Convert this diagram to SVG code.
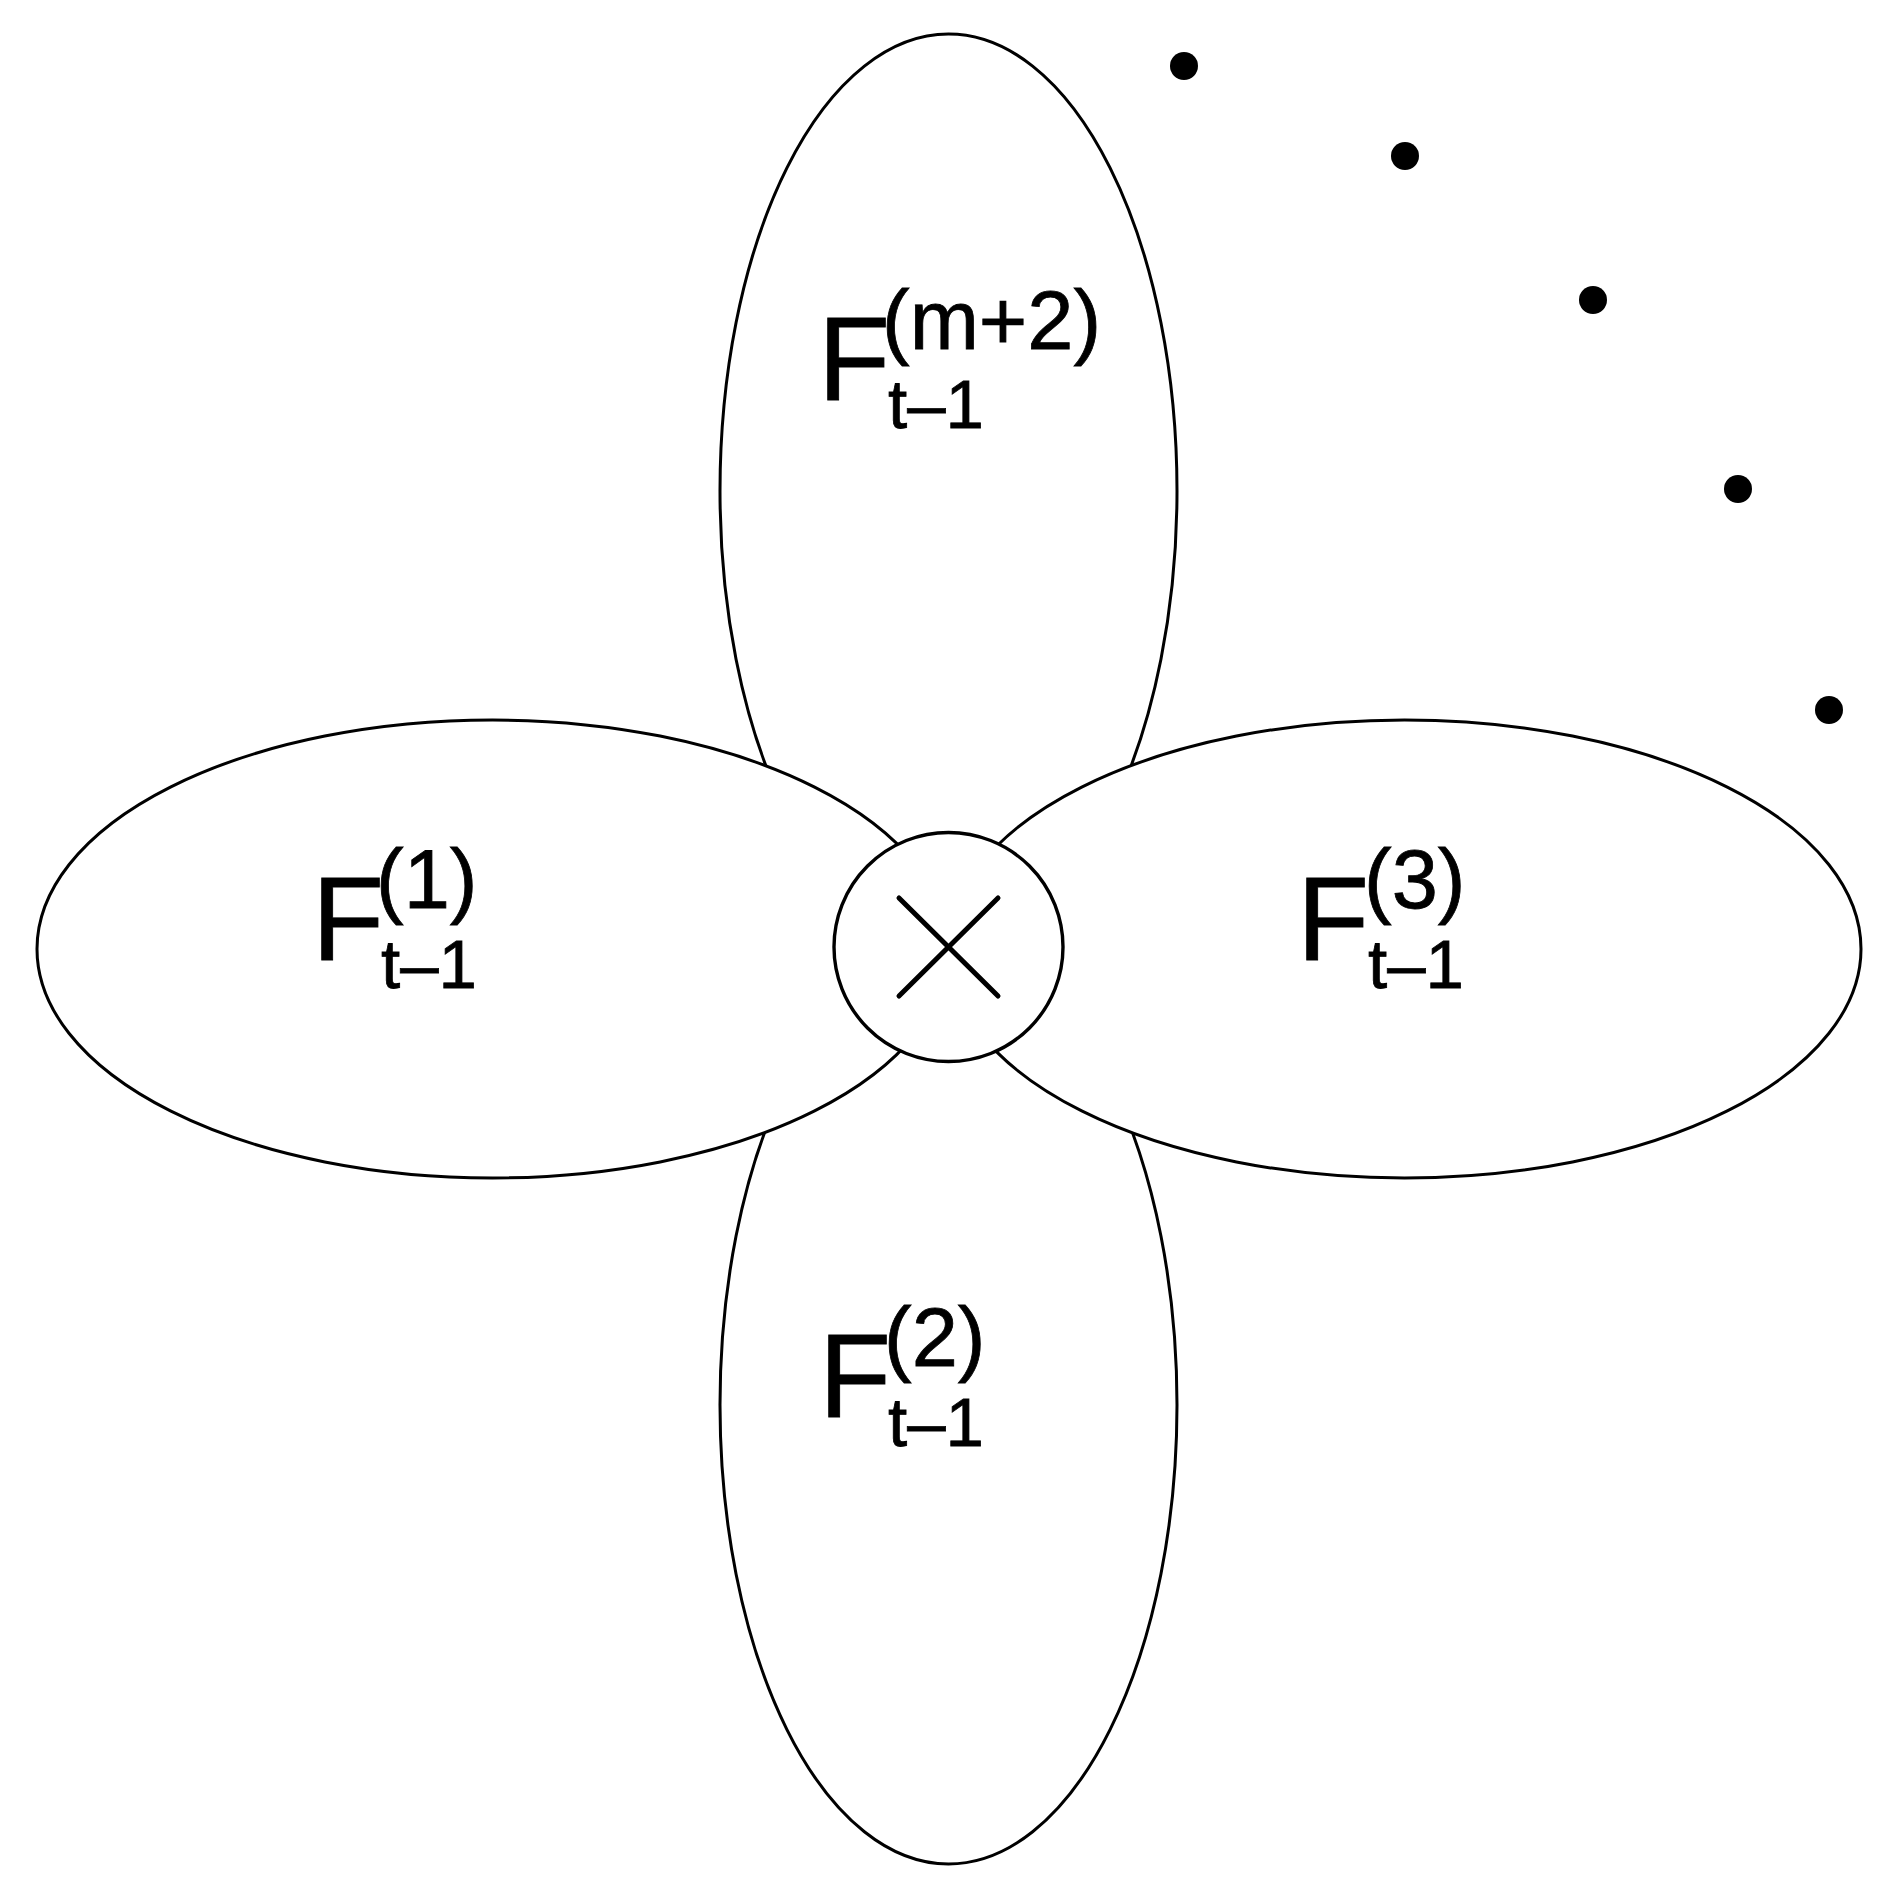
<svg xmlns="http://www.w3.org/2000/svg" width="1896" height="1890" viewBox="0 0 1896 1890">
<style>
.petal{fill:#fff;stroke:#000;stroke-width:3}
.hub{fill:#fff;stroke:#000;stroke-width:3.4}
.cross{stroke:#000;stroke-width:5;stroke-linecap:round}
.dot{fill:#000}
text{font-family:"Liberation Sans",Arial,sans-serif;fill:#000;stroke:#000;stroke-width:0.8}
.F{font-size:118px}
.sup{font-size:83px}
.sub{font-size:69px}
</style>
<rect width="1896" height="1890" fill="#fff"/>
<g id="petal-top">
<ellipse class="petal" cx="948.5" cy="491" rx="228.5" ry="457"/>
<text class="F" x="818" y="400">F</text>
<text class="sup" x="882" y="349">(m+2)</text>
<text class="sub" x="888" y="428">t–1</text>
</g>
<g id="petal-bottom">
<ellipse class="petal" cx="948.5" cy="1405" rx="228.5" ry="459"/>
<text class="F" x="819" y="1417">F</text>
<text class="sup" x="884" y="1366">(2)</text>
<text class="sub" x="888" y="1446">t–1</text>
</g>
<g id="petal-left">
<ellipse class="petal" cx="492.5" cy="949" rx="455.5" ry="229"/>
<text class="F" x="312" y="960">F</text>
<text class="sup" x="376" y="908">(1)</text>
<text class="sub" x="381" y="988">t–1</text>
</g>
<g id="petal-right">
<ellipse class="petal" cx="1404.5" cy="949" rx="456.5" ry="229"/>
<text class="F" x="1297" y="960">F</text>
<text class="sup" x="1364" y="908">(3)</text>
<text class="sub" x="1368" y="988">t–1</text>
</g>
<g id="hub">
<circle class="hub" cx="948.5" cy="947" r="114.5"/>
<line class="cross" x1="899" y1="898" x2="998" y2="996"/>
<line class="cross" x1="998" y1="898" x2="899" y2="996"/>
</g>
<g id="ellipsis-dots">
<circle class="dot" cx="1184" cy="66" r="14"/>
<circle class="dot" cx="1405" cy="156" r="14"/>
<circle class="dot" cx="1593" cy="300" r="14"/>
<circle class="dot" cx="1738" cy="489" r="14"/>
<circle class="dot" cx="1829" cy="710" r="14"/>
</g>
</svg>
